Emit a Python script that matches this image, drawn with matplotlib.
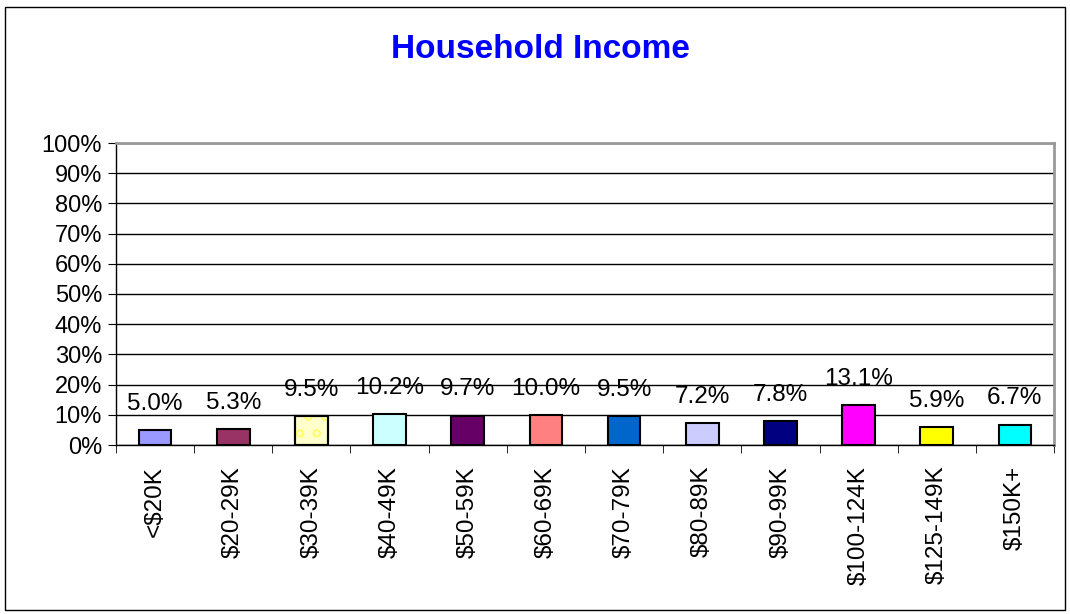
import matplotlib.pyplot as plt
from matplotlib.patches import Rectangle
from matplotlib.ticker import PercentFormatter, FixedLocator

plt.rcParams['font.family'] = ['Liberation Sans', 'DejaVu Sans']

# household income share by bracket
brackets = ['<$20K', '$20-29K', '$30-39K', '$40-49K', '$50-59K', '$60-69K',
            '$70-79K', '$80-89K', '$90-99K', '$100-124K', '$125-149K', '$150K+']
share = [5.0, 5.3, 9.5, 10.2, 9.7, 10.0, 9.5, 7.2, 7.8, 13.1, 5.9, 6.7]
bar_colors = ['#9999FF', '#993366', '#FFFFCC', '#CCFFFF', '#660066', '#FF8080',
              '#0066CC', '#CCCCFF', '#000080', '#FF00FF', '#FFFF00', '#00FFFF']

fig = plt.figure(figsize=(10.7, 6.14), dpi=100)
ax = fig.add_axes([116/1070, 1 - 445/614, (1054-116)/1070, (445-143)/614])

x = range(len(brackets))
bars = ax.bar(x, share, width=0.42, color=bar_colors, edgecolor='black',
              linewidth=1.5, zorder=3)

# dotted fill on the $30-39K bar
b = bars[2]
ax.add_patch(Rectangle(b.get_xy(), b.get_width(), b.get_height(),
                       facecolor='none', edgecolor='#FFFF66', hatch='o',
                       linewidth=0, zorder=3.5))
ax.add_patch(Rectangle(b.get_xy(), b.get_width(), b.get_height(),
                       facecolor='none', edgecolor='black', linewidth=1.5,
                       zorder=4))

for i, v in enumerate(share):
    ax.annotate(f'{v:.1f}%', (i, v), xytext=(0, 11), textcoords='offset points',
                ha='center', va='bottom', fontsize=17.5)

ax.set_xlim(-0.5, len(brackets) - 0.5)
ax.set_ylim(0, 100)
ax.set_yticks(range(0, 101, 10))
ax.yaxis.set_major_formatter(PercentFormatter(decimals=0))
ax.yaxis.grid(True, color='black', linewidth=1, zorder=0)
ax.set_xticks(list(x))
ax.set_xticklabels(brackets, rotation=90, fontsize=17.5)
ax.xaxis.set_minor_locator(FixedLocator([i - 0.5 for i in range(len(brackets) + 1)]))
ax.tick_params(axis='x', which='major', length=0, pad=15)
ax.tick_params(axis='x', which='minor', length=6, color='black')
ax.tick_params(axis='y', labelsize=17, length=6, pad=4)

for side in ['top', 'right']:
    ax.spines[side].set_color('#999999')
    ax.spines[side].set_linewidth(2)
ax.spines['left'].set_linewidth(1)
ax.spines['bottom'].set_linewidth(1)

fig.text(0.505, 1 - 50/614, 'Household Income', color='#0000FF',
         fontsize=24, fontweight='bold', ha='center', va='center')

# outer chart border
fig.add_artist(Rectangle((5/1070, 1 - 610/614), 1060/1070, 603/614,
                         transform=fig.transFigure, fill=False,
                         edgecolor='black', linewidth=1))

plt.savefig('out.png')
